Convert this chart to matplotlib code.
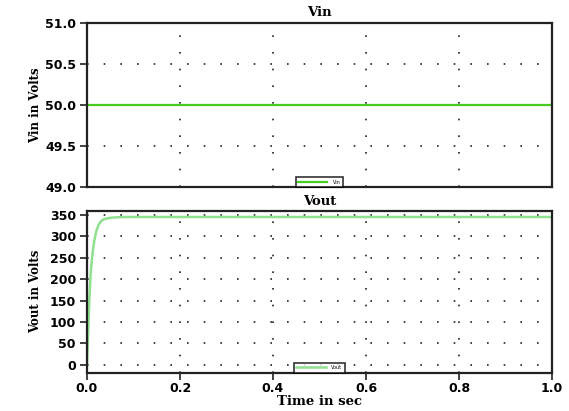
import matplotlib
matplotlib.use("Agg")
import matplotlib.pyplot as plt

# Data
vin_t = [0.0, 1.0]
vin_v = [50.0, 50.0]

vout_t = [0.0, 0.002, 0.005, 0.008, 0.012, 0.016, 0.020, 0.025, 0.030, 0.035,
          0.040, 0.050, 0.060, 0.080, 0.100, 1.0]
vout_v = [0, 60, 150, 215, 262, 292, 312, 327, 335, 339,
          341, 343, 344, 345, 345, 345]

vin_yticks = [49.0, 49.5, 50.0, 50.5, 51.0]
vout_yticks = [0, 50, 100, 150, 200, 250, 300, 350]
xticks = [0.0, 0.2, 0.4, 0.6, 0.8, 1.0]

fig = plt.figure(figsize=(5.69, 4.11), dpi=100)
W, H = 569, 411
ax1 = fig.add_axes([87 / W, 1 - 187 / H, (552 - 87) / W, (187 - 23) / H])
ax2 = fig.add_axes([87 / W, 1 - 372.5 / H, (552 - 87) / W, (372.5 - 211) / H])

tickfont = dict(family="DejaVu Sans", weight="bold", size=9)
titlefont = dict(family="DejaVu Serif", weight="bold", size=9.5)
labelfont = dict(family="DejaVu Serif", weight="bold", size=8.5)

for ax in (ax1, ax2):
    for s in ax.spines.values():
        s.set_linewidth(1.6)
        s.set_color("#222222")
    ax.grid(True, color="#222222", linestyle=(0, (1, 9)), linewidth=1.2)
    ax.set_xlim(0, 1.0)
    ax.set_xticks(xticks)
    ax.tick_params(direction="out", length=5, width=1.2, color="#222222", pad=3)
    ax.yaxis.set_label_coords(-0.097, 0.5)

ax1.plot(vin_t, vin_v, color="#44cc22", linewidth=1.6, label="Vin")
ax1.set_ylim(49.0, 51.0)
ax1.set_yticks(vin_yticks)
ax1.set_yticklabels([f"{v:.1f}" for v in vin_yticks], fontdict=tickfont)
ax1.tick_params(axis="x", length=0, labelbottom=False)
ax1.set_title("Vin", fontdict=titlefont, pad=5)
ax1.set_ylabel("Vin in Volts", fontdict=labelfont)
leg1 = ax1.legend(loc="lower center", bbox_to_anchor=(0.5, 0.0), fontsize=3.5,
                  frameon=True, fancybox=False, edgecolor="black", handlelength=6,
                  borderpad=0.5, handletextpad=1.2, borderaxespad=0)
leg1.get_frame().set_linewidth(1.2)

ax2.plot(vout_t, vout_v, color="#8fe08f", linewidth=1.8, label="Vout")
ax2.set_ylim(-18, 359)
ax2.set_yticks(vout_yticks)
ax2.set_yticklabels([str(v) for v in vout_yticks], fontdict=tickfont)
ax2.set_xticklabels([f"{v:.1f}" for v in xticks], fontdict=tickfont)
ax2.tick_params(axis="x", pad=1.5)
ax2.set_title("Vout", fontdict=titlefont, pad=4)
ax2.set_ylabel("Vout in Volts", fontdict=labelfont)
ax2.set_xlabel("Time in sec", fontdict=dict(labelfont, size=9.5), labelpad=0)
leg2 = ax2.legend(loc="lower center", bbox_to_anchor=(0.5, 0.0), fontsize=3.5,
                  frameon=True, fancybox=False, edgecolor="black", handlelength=6,
                  borderpad=0.5, handletextpad=1.2, borderaxespad=0)
leg2.get_frame().set_linewidth(1.2)

fig.savefig("out.png", dpi=100)
